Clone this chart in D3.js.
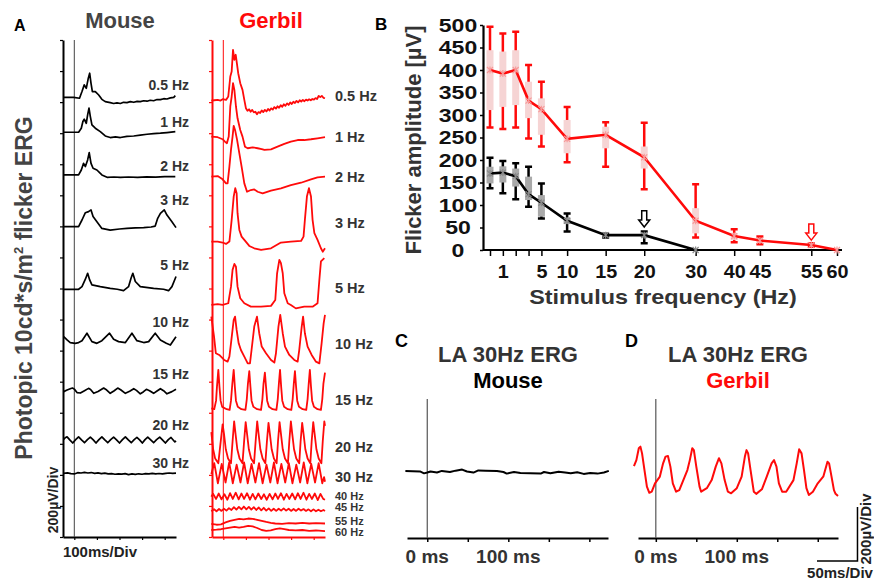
<!DOCTYPE html>
<html>
<head>
<meta charset="utf-8">
<script src="https://cdn.jsdelivr.net/npm/d3@7"></script>
<style>
  body { margin: 0; background: #fff; }
  svg { display: block; font-family: "Liberation Sans", Arial, sans-serif; font-weight: bold; }
</style>
</head>
<body>
<div id="chart"></div>
<script>
// ---------- panel A: stacked flicker ERG traces, [time ms, amplitude uV] ----------
const mouseRates = ["0.5 Hz", "1 Hz", "2 Hz", "3 Hz", "5 Hz", "10 Hz", "15 Hz", "20 Hz", "30 Hz"];
const gerbilRates = ["0.5 Hz", "1 Hz", "2 Hz", "3 Hz", "5 Hz", "10 Hz", "15 Hz", "20 Hz", "30 Hz", "40 Hz", "45 Hz", "55 Hz", "60 Hz"];

// where each trace sits on the stacked uV axis (200 uV per division)
const mouseOffsets = [2831, 2606, 2331, 1998, 1595, 1258, 942, 625, 410];
const gerbilOffsets = [2810, 2578, 2320, 1902, 1494, 1129, 818, 475, 346, 260, 174, 99, 50];

const mouse05 = [[-47,0],[-3,0],[23,-6],[34,37],[44,80],[53,58],[62,123],[68,155],[74,90],[80,37],[93,37],[108,15],[122,-13],[137,-28],[159,-34],[174,-40],[189,-36],[204,-40],[218,-32],[233,-34],[248,-28],[263,-32],[278,-26],[292,-28],[307,-22],[322,-25],[336,-19],[351,-22],[366,-14],[381,-15],[396,-9],[410,-11],[425,-4],[440,0],[447,11]];
const mouse1 = [[-47,0],[19,0],[31,26],[38,69],[44,84],[53,58],[59,112],[65,155],[71,101],[78,47],[93,26],[115,4],[137,-24],[159,-34],[182,-30],[204,-34],[233,-26],[263,-24],[292,-18],[322,-13],[351,-9],[381,-6],[410,-2],[447,4]];
const mouse2 = [[-47,0],[19,0],[31,32],[41,75],[49,54],[59,97],[66,144],[74,75],[83,43],[100,32],[122,0],[145,-15],[175,-13],[204,-15],[240,-13],[280,-15],[320,-12],[360,-14],[400,-11],[447,-11]];
const mouse3 = [[-47,0],[19,0],[34,43],[49,90],[63,97],[74,108],[83,65],[100,32],[122,-11],[159,-22],[200,-15],[233,-11],[270,-8],[307,-6],[340,-2],[358,4],[369,54],[381,86],[398,108],[410,75],[432,32],[450,-6]];
const mouse5 = [[-47,0],[19,0],[34,17],[49,65],[59,103],[68,60],[78,28],[115,17],[159,6],[190,0],[218,-9],[240,17],[251,71],[259,103],[270,50],[292,17],[351,6],[395,0],[417,-9],[432,17],[447,71],[450,82]];
const mouse10 = [[-47,32],[-32,11],[-18,-6],[4,-11],[19,-6],[34,6],[56,54],[78,0],[100,-11],[122,6],[156,54],[174,15],[196,0],[226,-6],[255,54],[277,6],[307,-6],[329,0],[358,54],[381,11],[407,-11],[425,-22],[440,11],[450,32]];
const mouse15 = [[-47,-6],[-32,4],[-15,14],[-8,17],[0,10],[12,-12],[27,-15],[45,0],[63,15],[72,8],[86,-17],[105,-5],[130,17],[140,8],[159,-17],[175,-2],[192,17],[205,6],[226,-17],[245,-4],[263,13],[275,2],[292,-20],[305,-8],[319,9],[333,0],[351,-17],[366,-2],[381,13],[395,0],[410,-20],[432,-6],[450,9]];
const mouse20 = [[-47,4],[-40,14],[-32,20],[-20,0],[-7,-20],[6,2],[19,20],[32,0],[45,-18],[58,2],[71,18],[84,0],[96,-20],[109,2],[122,20],[135,0],[148,-18],[161,2],[174,18],[187,0],[200,-20],[213,2],[226,20],[239,0],[252,-18],[265,2],[277,16],[289,0],[301,-20],[313,2],[325,18],[338,0],[351,-18],[364,2],[378,18],[390,0],[403,-20],[416,2],[428,16],[445,-13],[450,-5]];
const mouse30 = [[-47,0],[-30,3],[-15,-2],[0,-4],[15,4],[30,2],[45,6],[60,2],[75,5],[90,0],[105,3],[120,-2],[135,1],[150,-4],[165,-2],[180,-6],[195,-3],[210,-5],[225,-2],[240,-8],[255,-4],[270,-7],[285,-3],[300,-6],[315,-2],[330,-4],[345,0],[360,-3],[375,-1],[390,-4],[405,0],[420,2],[435,0],[450,1]];

const gerbil05 = [[-53,0],[-40,2],[-25,4],[-12,0],[-3,9],[12,4],[22,26],[31,155],[37,187],[43,327],[49,262],[55,295],[60,241],[66,176],[75,112],[85,69],[93,4],[100,-49],[107,-66],[114,-56],[121,-72],[128,-60],[135,-76],[142,-72],[149,-88],[156,-74],[163,-80],[170,-64],[177,-74],[184,-60],[191,-70],[198,-54],[205,-64],[212,-50],[219,-58],[226,-42],[233,-52],[240,-37],[247,-46],[254,-30],[261,-40],[268,-24],[275,-34],[282,-18],[289,-28],[296,-12],[303,-22],[310,-8],[317,-16],[324,-2],[331,-12],[338,2],[345,-6],[352,4],[359,-4],[366,6],[373,0],[380,8],[387,2],[394,10],[401,6],[408,16],[415,10],[422,30],[429,22],[436,30],[443,18],[450,15]];
const gerbil1 = [[-53,0],[-25,-4],[-3,-17],[7,-32],[16,-43],[24,0],[31,194],[37,258],[43,344],[49,301],[56,194],[63,118],[75,43],[85,0],[96,-65],[108,-75],[130,-69],[152,-75],[170,-80],[182,-86],[211,-82],[240,-65],[270,-47],[299,-32],[329,-22],[358,-22],[388,-17],[417,-11],[450,-4]];
const gerbil2 = [[-53,0],[-25,4],[-3,-17],[12,-43],[19,-43],[27,65],[34,172],[41,258],[46,327],[52,301],[61,237],[71,150],[81,65],[93,-43],[105,-97],[122,-86],[137,-82],[152,-97],[174,-107],[211,-90],[255,-75],[299,-54],[344,-39],[388,-17],[417,-4],[450,0]];
const gerbil3 = [[-53,0],[-25,0],[-3,-6],[12,-15],[27,0],[37,140],[46,290],[53,344],[59,312],[63,183],[71,75],[81,32],[93,11],[115,-28],[137,-43],[167,-54],[211,-43],[255,-6],[299,0],[344,4],[355,32],[361,140],[370,290],[379,344],[388,290],[395,140],[403,54],[417,11],[432,-43],[440,-65],[450,-43]];
const gerbil5 = [[-53,0],[-25,6],[-3,0],[22,11],[34,118],[41,226],[49,264],[56,247],[63,118],[75,43],[93,11],[122,-11],[167,-11],[211,-6],[230,32],[238,204],[248,290],[255,269],[263,204],[270,75],[285,11],[299,0],[321,-22],[358,-11],[395,-11],[417,11],[425,161],[432,280],[447,301]];
const gerbil10 = [[-53,290],[-41,161],[-33,54],[-18,43],[4,11],[19,0],[27,32],[34,118],[46,269],[52,290],[59,204],[68,118],[78,75],[93,32],[108,-11],[118,-11],[125,75],[137,226],[149,290],[159,183],[170,97],[189,54],[211,11],[226,-6],[233,54],[244,226],[252,301],[263,183],[273,97],[292,43],[314,11],[329,0],[336,75],[347,226],[353,290],[361,183],[373,97],[391,43],[410,0],[425,-11],[435,118],[444,247],[450,301]];
const gerbil15 = [[-53,10],[-40,5],[-32,60],[-28,150],[-22,258],[-17,150],[-12,60],[-5,20],[15,5],[28,0],[34,60],[40,170],[46,258],[51,150],[56,60],[64,20],[80,5],[98,0],[104,70],[109,170],[115,250],[120,150],[125,60],[133,20],[150,5],[167,0],[173,70],[178,170],[184,240],[189,150],[194,60],[202,20],[218,5],[235,0],[241,70],[246,170],[251,258],[256,150],[261,60],[269,20],[285,5],[301,0],[307,70],[312,170],[317,250],[322,150],[327,60],[335,20],[351,5],[367,0],[373,70],[378,170],[383,258],[388,150],[393,60],[401,20],[417,5],[432,0],[438,70],[443,170],[450,240]];
const gerbil20 = [[-53,200],[-45,90],[-36,30],[-22,0],[-13,120],[-3,250],[3,190],[11,90],[21,30],[34,0],[41,140],[48,270],[54,190],[62,90],[72,30],[85,0],[92,140],[99,265],[105,190],[113,90],[123,30],[136,0],[143,140],[150,270],[156,190],[164,90],[174,30],[186,0],[193,140],[200,260],[206,190],[214,90],[224,30],[236,0],[242,140],[249,265],[255,190],[263,90],[273,30],[286,0],[292,140],[299,270],[305,190],[313,90],[323,30],[336,0],[342,140],[349,260],[355,190],[363,90],[373,30],[385,0],[391,140],[398,265],[404,190],[412,90],[422,30],[434,0],[440,140],[447,270],[450,240]];
const gerbil30 = [[-53,60],[-40,130],[-24,0],[-7,125],[10,5],[26,135],[42,0],[59,120],[76,5],[92,135],[108,0],[125,125],[142,5],[158,130],[174,0],[191,120],[208,5],[224,135],[240,0],[257,125],[274,5],[290,130],[306,0],[323,120],[340,5],[356,135],[372,0],[389,125],[406,5],[422,130],[438,0],[446,40],[450,10]];
const gerbil40 = [[-53,0],[-45,18],[-32,-15],[-20,20],[-8,-18],[5,15],[18,-20],[30,22],[42,-15],[55,25],[68,-18],[80,20],[92,-15],[105,22],[118,-20],[130,18],[142,-18],[155,20],[168,-15],[180,15],[192,-20],[205,18],[218,-18],[230,20],[242,-15],[255,22],[268,-20],[280,18],[292,-15],[305,20],[318,-18],[330,22],[342,-15],[355,25],[368,-20],[380,18],[392,-15],[405,20],[418,-22],[430,18],[442,-15],[450,-20]];
const gerbil45 = [[-53,-8],[-41,5],[-30,-8],[-19,6],[-8,-6],[3,8],[14,-4],[25,12],[36,0],[47,18],[58,2],[69,20],[80,4],[91,22],[102,4],[113,20],[124,2],[135,18],[146,0],[157,16],[168,-2],[179,14],[190,-4],[201,10],[212,-6],[223,8],[234,-6],[245,8],[256,-4],[267,10],[278,-4],[289,8],[300,-6],[311,6],[322,-6],[333,8],[344,-4],[355,6],[366,-6],[377,4],[388,-8],[399,4],[410,-8],[421,2],[432,-8],[443,0],[450,-6]];
const gerbil55 = [[-53,-15],[-30,-20],[-10,-18],[10,-5],[30,5],[50,12],[70,18],[90,15],[110,20],[130,18],[150,12],[170,5],[190,-2],[210,-8],[230,-12],[260,-15],[290,-10],[320,-12],[350,-8],[380,-12],[410,-10],[450,-12]];
const gerbil60 = [[-53,-5],[-30,-3],[-10,0],[10,5],[30,10],[50,15],[70,10],[90,15],[110,22],[130,18],[150,8],[170,-5],[190,-10],[210,-8],[230,0],[250,5],[270,0],[290,-5],[320,-8],[350,-5],[380,-10],[410,-8],[450,-12]];

const mouseTraces = [mouse05, mouse1, mouse2, mouse3, mouse5, mouse10, mouse15, mouse20, mouse30];
const gerbilTraces = [gerbil05, gerbil1, gerbil2, gerbil3, gerbil5, gerbil10, gerbil15, gerbil20, gerbil30, gerbil40, gerbil45, gerbil55, gerbil60];

// ---------- panel B: flicker amplitude vs stimulus frequency ----------
const freqs = [0.5, 1, 2, 3, 5, 10, 15, 20, 30, 40, 45, 55, 60];
const freqLabels = ["", "1", "", "", "5", "10", "15", "20", "30", "40", "45", "55", "60"];
const gerbilMean = [400, 392, 400, 332, 313, 247, 256, 206, 65, 31, 21, 11, 0];
const gerbilHi = [496, 481, 485, 411, 374, 318, 284, 283, 146, 46, 30, 15, 0];
const gerbilLo = [272, 269, 272, 248, 230, 195, 185, 135, 28, 17, 13, 7, 0];
const gerbilBandHi = [444, 441, 444, 374, 337, 289, 274, 230, 93, 37, 25, 14, 0];
const gerbilBandLo = [311, 318, 322, 293, 256, 215, 226, 181, 37, 22, 16, 9, 0];
const mouseFreqs = [0.5, 1, 2, 3, 5, 10, 15, 20, 30];
const mouseMean = [170, 172, 164, 124, 105, 65, 33, 33, 0];
const mouseHi = [205, 198, 193, 185, 148, 81, 36, 41, 0];
const mouseLo = [137, 126, 113, 96, 70, 41, 28, 15, 0];
const mouseBandHi = [185, 186, 181, 163, 122, 72, 35, 38, 0];
const mouseBandLo = [148, 150, 141, 111, 74, 58, 31, 28, 0];
// open arrows marking the flicker fusion limit, [freq, top uV, tip uV]
const mouseArrow = [20, 87, 51];
const gerbilArrow = [55, 58, 22];

// ---------- panels C, D: LA 30 Hz ERG, [time ms, amplitude uV] ----------
const mouseLA30 = [[-27,4],[-9,2],[-4,-5],[0,-2],[4,2],[12,-2],[18,4],[28,0],[35,5],[43,9],[49,2],[57,-2],[63,6],[72,5],[86,4],[94,0],[98,-6],[107,0],[115,-4],[127,-5],[140,-6],[144,0],[152,-5],[162,1],[170,-2],[177,-5],[185,-1],[193,-7],[201,-4],[210,-6],[218,-2],[224,4]];
const gerbilLA30 = [[-27,22],[-24,44],[-21,88],[-19,94],[-17,69],[-14,7],[-11,-54],[-8,-77],[-5,-73],[-1,-42],[5,-17],[9,32],[12,57],[15,59],[18,20],[21,-42],[25,-73],[29,-67],[34,-30],[39,7],[42,44],[45,88],[47,81],[50,20],[54,-54],[56,-73],[63,-60],[69,-30],[74,20],[78,51],[81,32],[85,-30],[89,-73],[93,-79],[100,-60],[106,-17],[110,57],[112,81],[114,69],[117,7],[121,-73],[124,-81],[131,-64],[137,-17],[143,32],[146,44],[149,20],[152,-42],[156,-73],[161,-73],[170,-30],[174,32],[177,84],[180,69],[183,7],[186,-60],[189,-85],[194,-73],[200,-42],[207,-16],[212,38],[214,32],[217,-17],[220,-67],[222,-81],[225,-89]];

// ---------- drawing ----------
const W = 874, H = 581;
const RED = "#ff0a0a";
const GREY_TEXT = "#333";

const svg = d3.select("#chart").append("svg").attr("width", W).attr("height", H);

function label(x, y, text, size, color, anchor) {
  return svg.append("text")
    .attr("x", x).attr("y", y)
    .attr("font-size", size)
    .attr("fill", color || "#000")
    .attr("text-anchor", anchor || "start")
    .text(text);
}

// ----- A -----
const yStack = d3.scaleLinear().domain([0, 3200]).range([537, 40]);
const xMouse = d3.scaleLinear().domain([-50, 450]).range([63, 176]);
const xGerbil = d3.scaleLinear().domain([-50, 450]).range([212, 325]);

function stackPanel(x, traces, offsets, rates, color, lineW, labelX, labelAnchor, nudges, sizes) {
  const g = svg.append("g");
  const left = g.append("g").attr("transform", "translate(" + x.range()[0] + ",0)")
    .call(d3.axisLeft(yStack).tickValues(d3.range(0, 3201, 200)).tickSize(3).tickSizeOuter(0).tickFormat(""));
  const bottom = g.append("g").attr("transform", "translate(0,537)")
    .call(d3.axisBottom(x).tickValues([0, 100, 200, 300, 400]).tickSize(3).tickSizeOuter(0).tickFormat(""));
  [left, bottom].forEach(a => {
    a.select(".domain").attr("stroke", color).attr("stroke-width", 2);
    a.selectAll(".tick line").attr("stroke", color).attr("stroke-width", 1.2);
  });
  g.append("line")
    .attr("x1", x(0)).attr("x2", x(0)).attr("y1", 40).attr("y2", 537)
    .attr("stroke", color === "#000" ? "#444" : color).attr("stroke-width", 1);

  traces.forEach((tr, i) => {
    const line = d3.line().x(d => x(d[0])).y(d => yStack(offsets[i] + d[1]));
    g.append("path").datum(tr).attr("d", line)
      .attr("fill", "none").attr("stroke", color).attr("stroke-width", lineW)
      .attr("stroke-linejoin", "round");
    g.append("text")
      .attr("x", labelX).attr("y", yStack(offsets[i]) + nudges[i] + sizes[i] * 0.36)
      .attr("text-anchor", labelAnchor).attr("font-size", sizes[i]).attr("fill", GREY_TEXT)
      .text(rates[i]);
  });
}

stackPanel(xMouse, mouseTraces, mouseOffsets, mouseRates, "#000", 1.7, 189, "end",
  [-12, -10, -9, -27, -24, -20, -17, -15, -10],
  mouseRates.map(() => 14));
stackPanel(xGerbil, gerbilTraces, gerbilOffsets, gerbilRates, RED, 1.8, 335, "start",
  [-5, 0, 0, -19, -17, -18, -10, -16, -6, -1, -3, -1, 3],
  gerbilRates.map((r, i) => i < 9 ? 14.5 : 11));

label(14, 31, "A", 16);
label(120, 28, "Mouse", 22, "#444", "middle");
label(271, 28, "Gerbil", 22, RED, "middle");
label(100, 557, "100ms/Div", 15, "#222", "middle");
svg.append("text").attr("transform", "translate(58,500) rotate(-90)")
  .attr("text-anchor", "middle").attr("font-size", 14).attr("fill", "#222").text("200µV/Div");

const yTitle = svg.append("text").attr("transform", "translate(32,288) rotate(-90)")
  .attr("text-anchor", "middle").attr("font-size", 23).attr("fill", "#444");
yTitle.append("tspan").text("Photopic 10cd*s/m");
yTitle.append("tspan").attr("dy", -9).attr("font-size", 13).text("2");
yTitle.append("tspan").attr("dy", 9).text(" flicker ERG");

// ----- B -----
const slotOf = [0, 1, 2, 3, 4, 6, 9, 12, 16, 19, 21, 25, 27];
const xSlot = d3.scaleLinear().domain([0, 27]).range([490, 837]);
const xB = d3.scaleLinear().domain(freqs).range(slotOf.map(xSlot));
const yB = d3.scaleLinear().domain([0, 500]).range([250, 25]);
const B = svg.append("g");

const yAxB = B.append("g").attr("transform", "translate(483,0)")
  .call(d3.axisLeft(yB).tickValues(d3.range(0, 501, 50)).tickSize(3).tickSizeOuter(0));
yAxB.selectAll("text").attr("x", null).attr("dy", "0.36em")
  .attr("text-anchor", "middle").attr("transform", "translate(-25,0) scale(1.28,1)");
const xAxB = B.append("g").attr("transform", "translate(0,250)")
  .call(d3.axisBottom(xB).tickValues(freqs).tickSize(6).tickSizeOuter(0)
    .tickFormat((d, i) => freqLabels[i]));
xAxB.select(".domain").remove();
xAxB.selectAll("text").attr("y", 28).attr("dy", null).attr("transform", "scale(1.1,1)");
B.append("line").attr("x1", 483).attr("x2", 842).attr("y1", 250).attr("y2", 250)
  .attr("stroke", "#000").attr("stroke-width", 2.2);
[yAxB, xAxB].forEach(a => {
  a.selectAll("text").attr("font-size", 18).attr("font-family", null).attr("fill", "#111");
  a.selectAll(".tick line").attr("stroke-width", 1.5);
});
yAxB.select(".domain").attr("stroke-width", 2.2);

function series(fs, mean, hi, lo, bandHi, bandLo, color, band, marker) {
  const idx = d3.range(fs.length).filter(i => hi[i] > lo[i]);
  B.append("g").selectAll("path").data(idx).join("path")
    .attr("d", i => {
      const x = xB(fs[i]);
      return "M" + x + "," + yB(hi[i]) + "V" + yB(lo[i]) +
        "M" + (x - 3.5) + "," + yB(hi[i]) + "H" + (x + 3.5) +
        "M" + (x - 3.5) + "," + yB(lo[i]) + "H" + (x + 3.5);
    })
    .attr("stroke", color).attr("stroke-width", 2.5).attr("fill", "none");
  B.append("g").selectAll("rect").data(idx).join("rect")
    .attr("x", i => xB(fs[i]) - 3.5).attr("width", 7)
    .attr("y", i => yB(bandHi[i])).attr("height", i => yB(bandLo[i]) - yB(bandHi[i]))
    .attr("fill", band);
  B.append("path").datum(d3.range(fs.length))
    .attr("d", d3.line().x(i => xB(fs[i])).y(i => yB(mean[i])))
    .attr("fill", "none").attr("stroke", color).attr("stroke-width", 2.6);
  B.append("g").selectAll("path").data(d3.range(fs.length)).join("path")
    .attr("transform", i => "translate(" + xB(fs[i]) + "," + yB(mean[i]) + ")")
    .attr("d", "M-3,-3L3,3M-3,3L3,-3M0,-3.5V3.5")
    .attr("stroke", marker).attr("stroke-width", 1.2);
}

series(freqs, gerbilMean, gerbilHi, gerbilLo, gerbilBandHi, gerbilBandLo, RED, "#f6d4d4", "#f79a9a");
series(mouseFreqs, mouseMean, mouseHi, mouseLo, mouseBandHi, mouseBandLo, "#000", "#a9a9a9", "#8a8a8a");

function openArrow(a, color) {
  const x = xB(a[0]), top = yB(a[1]), tip = yB(a[2]), head = tip - 7;
  B.append("path")
    .attr("d", "M" + (x - 2.5) + "," + top + "H" + (x + 2.5) + "V" + head + "H" + (x + 5.5) +
      "L" + x + "," + tip + "L" + (x - 5.5) + "," + head + "H" + (x - 2.5) + "Z")
    .attr("fill", "#fff").attr("stroke", color).attr("stroke-width", 1.5);
}
openArrow(mouseArrow, "#000");
openArrow(gerbilArrow, RED);

label(375, 30, "B", 17);
svg.append("text").attr("transform", "translate(421,140) rotate(-90)")
  .attr("text-anchor", "middle").attr("font-size", 22).attr("fill", "#333")
  .text("Flicker amplitude [µV]");
svg.append("text").attr("transform", "translate(663,304) scale(1.17,1)")
  .attr("text-anchor", "middle").attr("font-size", 20).attr("fill", "#333")
  .text("Stimulus frequency (Hz)");

// ----- C, D -----
const yLA = d3.scaleLinear().domain([-100, 100]).range([499, 445]);

function laPanel(x, trace, color, species, speciesColor, cx, letter, letterX) {
  const g = svg.append("g");
  const ax = g.append("g").attr("transform", "translate(0,538)")
    .call(d3.axisBottom(x).tickValues([0, 50, 100, 150, 200]).tickSize(4).tickSizeOuter(0).tickFormat(""));
  ax.select(".domain").attr("stroke-width", 2.2);
  ax.selectAll(".tick line").attr("stroke-width", 1.5);
  g.append("line").attr("x1", x(0)).attr("x2", x(0)).attr("y1", 399).attr("y2", 538)
    .attr("stroke", "#555").attr("stroke-width", 1.2);
  g.append("path").datum(trace)
    .attr("d", d3.line().x(d => x(d[0])).y(d => yLA(d[1])))
    .attr("fill", "none").attr("stroke", color).attr("stroke-width", 2).attr("stroke-linejoin", "round");
  label(letterX, 347, letter, 18);
  label(cx, 362, "LA 30Hz ERG", 22, "#333", "middle");
  label(cx, 388, species, 22, speciesColor, "middle");
  label(x(0), 563, "0 ms", 19, "#333", "middle");
  label(x(100), 563, "100 ms", 19, "#333", "middle");
}

const xC = d3.scaleLinear().domain([-25, 223]).range([407, 608]);
const xD = d3.scaleLinear().domain([-22, 225]).range([638, 838]);
laPanel(xC, mouseLA30, "#000", "Mouse", "#000", 508, "C", 395);
laPanel(xD, gerbilLA30, RED, "Gerbil", RED, 738, "D", 625);

// scale bar: 50 ms x 200 uV
const barX = 817, barY = 561;
const barW = xD(50) - xD(0), barH = yLA(0) - yLA(200);
svg.append("path")
  .attr("d", "M" + barX + "," + barY + "H" + (barX + barW) + "V" + (barY - barH))
  .attr("fill", "none").attr("stroke", "#000").attr("stroke-width", 1.5);
label(840, 578, "50ms/Div", 15, "#222", "middle");
svg.append("text").attr("transform", "translate(871,529) rotate(-90)")
  .attr("text-anchor", "middle").attr("font-size", 15).attr("fill", "#222").text("200µV/Div");
</script>
</body>
</html>
